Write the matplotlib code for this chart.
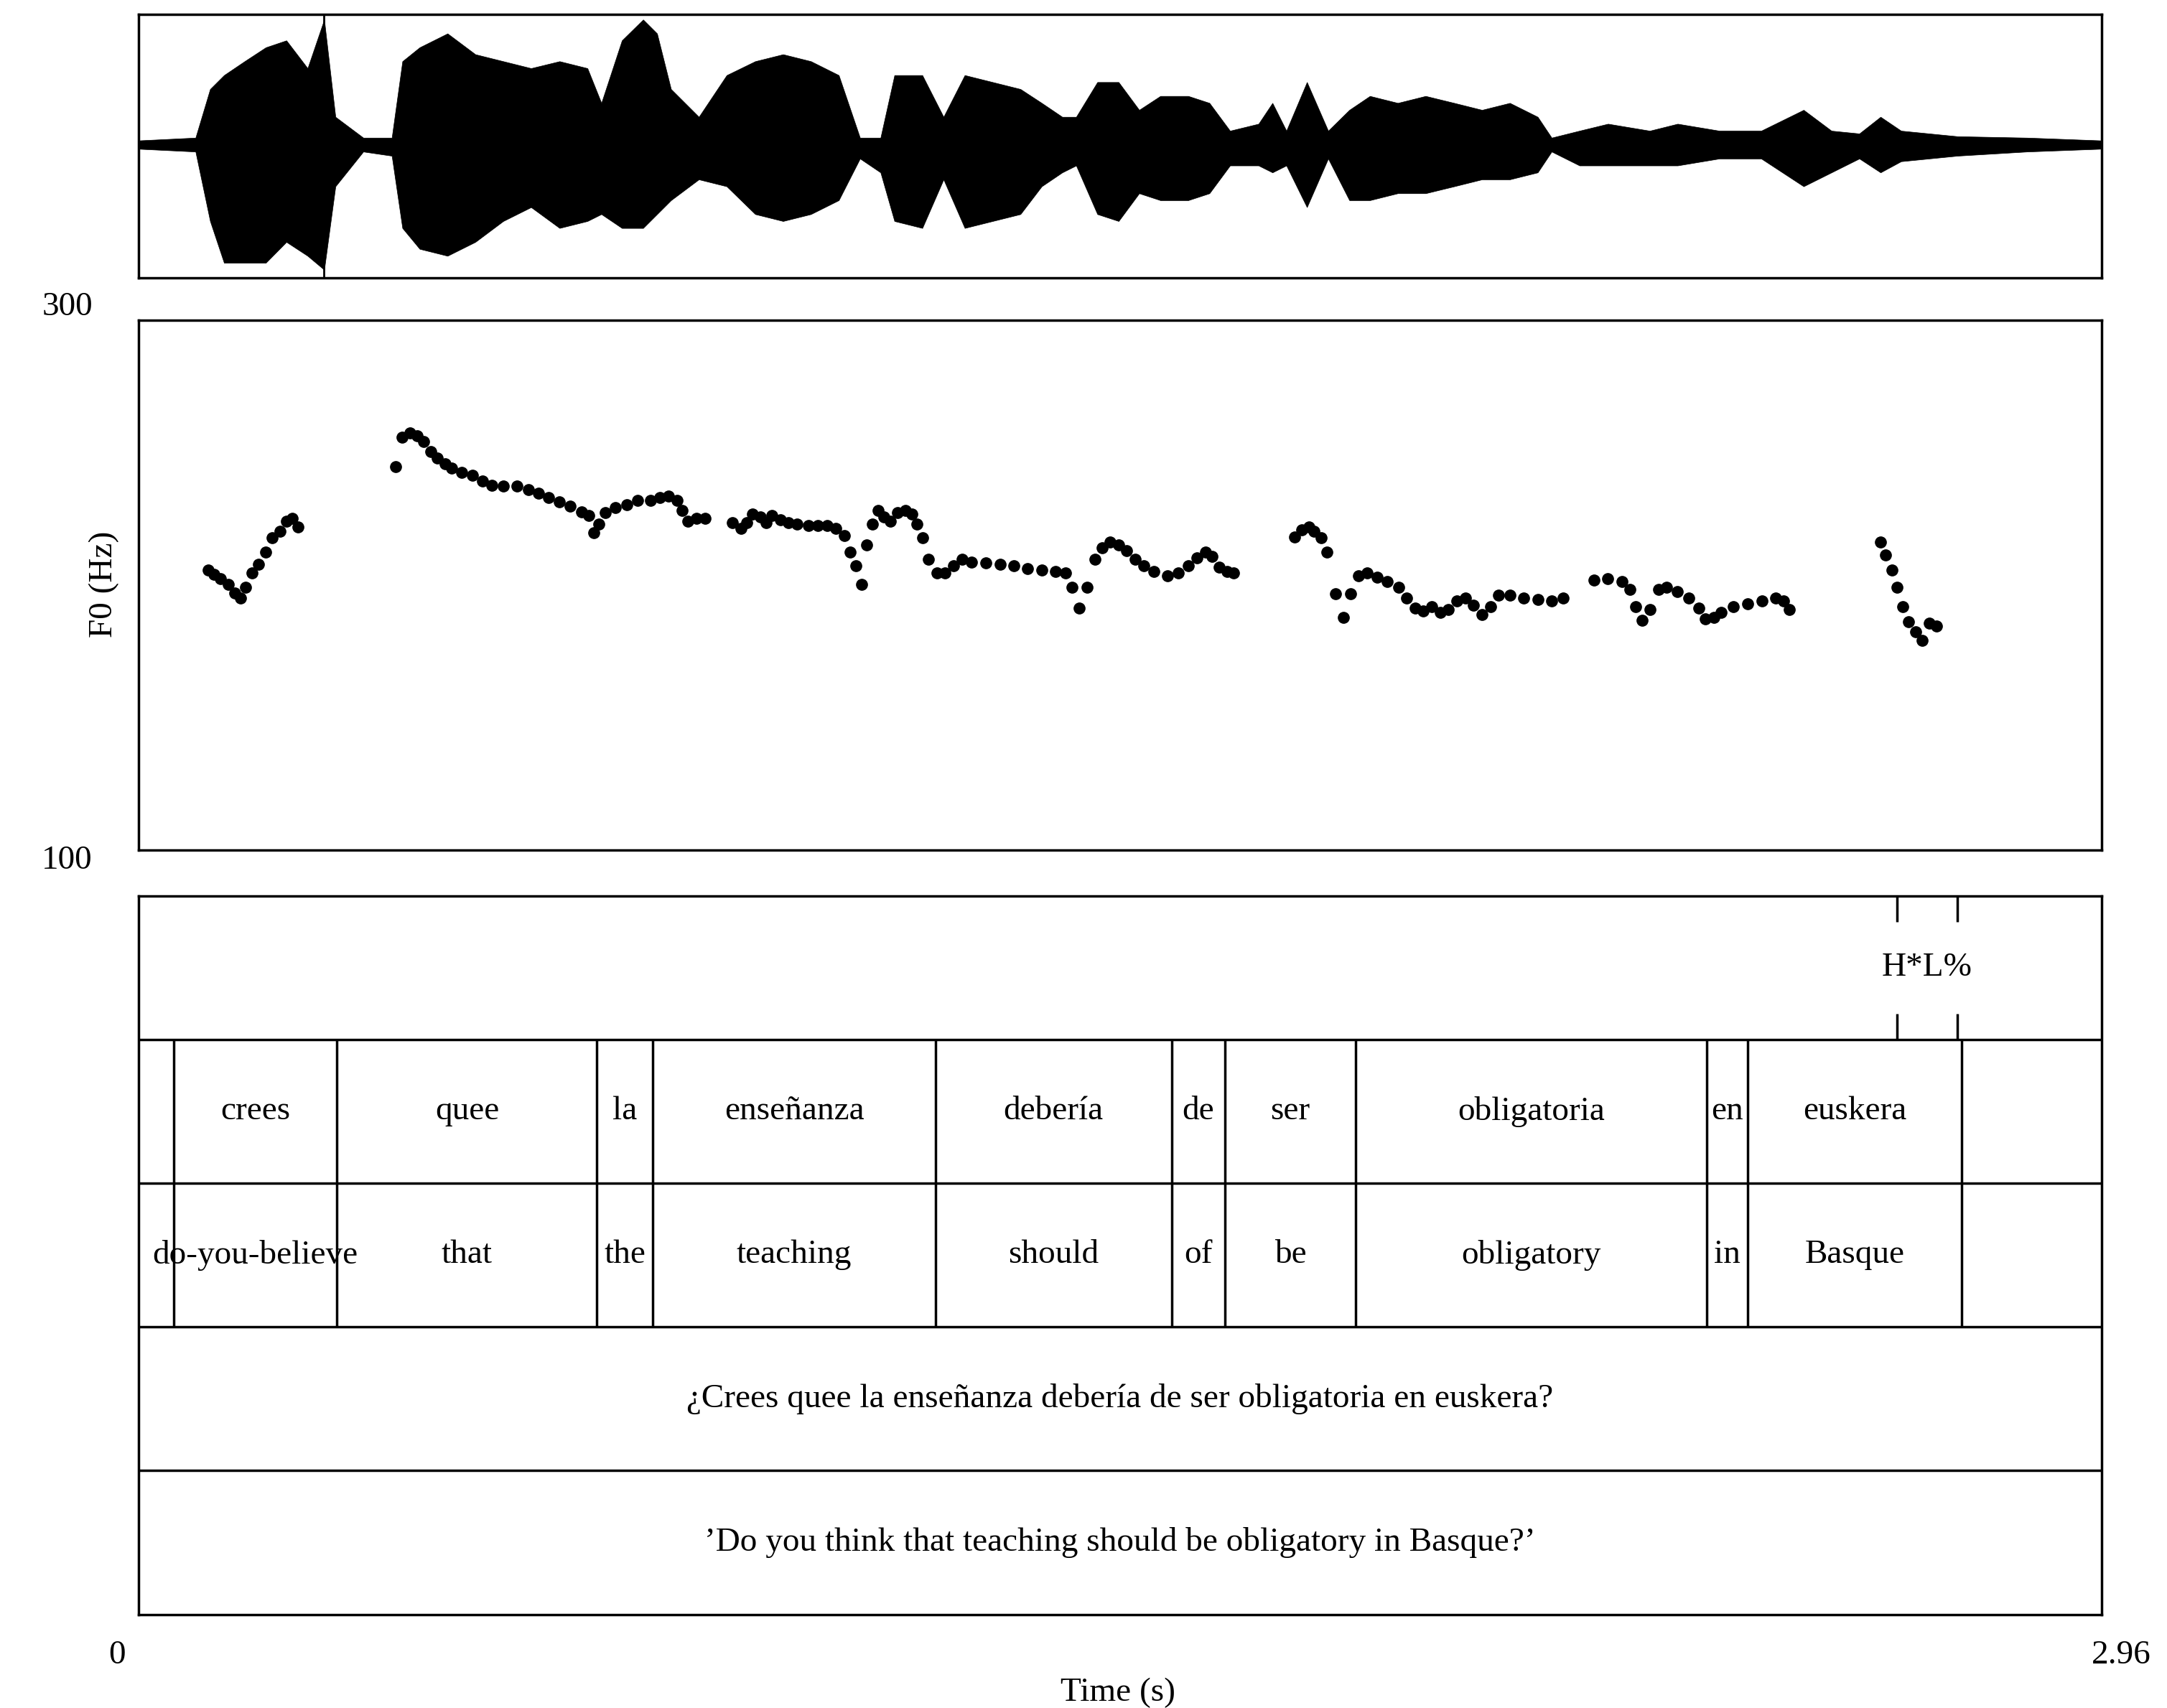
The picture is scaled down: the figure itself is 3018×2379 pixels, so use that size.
import matplotlib
matplotlib.use("Agg")
import matplotlib.pyplot as plt
import numpy as np

plt.rcParams['font.family'] = ['Liberation Serif', 'DejaVu Serif']

T_MAX = 2.96
# waveform envelope (time s, upper, lower amplitude)
wav_t = [0,0.086,0.108,0.129,0.160,0.192,0.223,0.255,0.280,0.297,0.339,0.382,0.398,0.424,0.466,0.508,0.550,0.592,0.635,0.677,0.698,0.729,0.761,0.782,0.803,0.845,0.887,0.930,0.972,1.014,1.056,1.088,1.119,1.140,1.182,1.214,1.246,1.288,1.330,1.362,1.393,1.414,1.446,1.478,1.509,1.541,1.583,1.615,1.646,1.689,1.710,1.731,1.762,1.794,1.826,1.857,1.899,1.941,1.984,2.026,2.068,2.110,2.131,2.173,2.216,2.279,2.321,2.384,2.447,2.511,2.553,2.595,2.627,2.658,2.743,2.848,2.960]
wav_up = [3,5,40,50,60,70,75,55,90,20,5,5,60,70,80,65,60,55,60,55,30,75,90,80,40,20,50,60,65,60,50,5,5,50,50,20,50,45,40,30,20,20,45,45,25,35,35,30,10,15,30,10,45,10,25,35,30,35,30,25,30,20,5,10,15,10,15,10,10,25,10,8,20,10,6,5,3]
wav_lo = [3,5,55,85,85,85,70,80,90,30,5,8,60,75,80,70,55,45,60,55,50,60,60,50,40,25,30,50,55,50,40,10,20,55,60,25,60,55,50,30,20,15,50,55,35,40,40,35,15,15,20,15,45,10,40,40,35,35,30,25,25,20,5,15,15,15,15,10,10,30,20,10,20,12,8,5,3]

f0_t = [0.105,0.114,0.124,0.135,0.145,0.154,0.162,0.171,0.181,0.192,0.202,0.213,0.223,0.232,0.240,
        0.388,0.398,0.409,0.420,0.430,0.441,0.451,0.462,0.472,0.487,0.504,0.519,0.533,0.550,0.571,0.588,0.603,0.618,0.635,0.651,0.668,0.679,0.687,0.694,0.704,0.719,0.736,0.753,0.772,0.786,0.799,0.812,0.820,0.829,0.841,0.854,
        0.896,0.909,0.917,0.926,0.938,0.947,0.955,0.968,0.980,0.993,1.010,1.025,1.039,1.052,1.065,1.073,1.082,1.090,1.098,1.107,1.115,1.124,1.134,1.145,1.157,1.166,1.174,1.183,1.191,1.204,1.216,1.229,1.242,1.256,1.278,1.299,1.320,1.341,1.362,1.383,1.398,1.408,1.419,1.431,1.442,1.453,1.465,1.478,1.490,1.503,1.516,1.531,1.552,1.568,1.583,1.596,1.609,1.619,1.630,1.642,1.651,
        1.743,1.754,1.765,1.773,1.784,1.792,1.805,1.817,1.828,1.840,1.853,1.868,1.883,1.900,1.912,1.925,1.937,1.950,1.963,1.975,1.988,2.001,2.013,2.026,2.039,2.051,2.068,2.089,2.110,2.131,2.148,
        2.195,2.216,2.237,2.249,2.258,2.268,2.279,2.292,2.304,2.321,2.338,2.353,2.363,2.376,2.387,2.405,2.427,2.448,2.469,2.481,2.490,
        2.627,2.635,2.644,2.652,2.661,2.669,2.680,2.690,2.701,2.711]
f0_hz = [205.5,204,202.4,200.3,197,195,199.2,204.5,207.7,212.4,217.7,220.3,224,225,221.9,
         244.6,255.7,257.3,256.2,254.1,250.4,247.8,245.6,244.1,242.5,241.4,239.3,237.7,237.2,237.2,236.1,234.6,233,231.4,229.8,227.7,226.1,219.8,223,227.2,229.3,230.3,231.9,231.9,233,233.5,231.9,228.2,224,225.1,225.1,
         223.5,221.4,223.5,226.7,225.6,223.5,226.1,224.5,223.5,223,222.4,222.4,222.4,221.4,218.7,212.4,207.1,200.3,215,223,228.2,225.6,224,227.2,228.2,226.7,223,217.7,209.8,204.5,204.5,207.1,209.8,208.7,208.2,207.7,207.1,206.1,205.5,205,204.5,199.2,191.3,199.2,209.8,214,216.1,215,212.9,209.8,207.1,205,203.4,204.5,207.1,210.3,212.4,210.8,206.6,205,204.5,
         218.2,220.8,221.9,220.3,217.7,212.4,196.6,187.6,196.6,203.4,204.5,202.9,201.3,199.2,195,191.3,190.2,191.8,189.7,190.8,193.9,195,192.4,188.7,191.8,196,196,195,194.5,193.9,195,
         201.8,202.4,201.3,198.2,191.8,186.5,190.8,198.2,199.2,197.6,195,191.3,187.1,187.6,189.7,191.8,192.9,193.9,195,193.9,190.8,
         216.1,211.3,205.5,199.2,191.8,186,182.3,179.1,185.5,184.4]

word_bounds = [0.0527,0.2994,0.6915,0.7758,1.2017,1.558,1.638,1.836,2.365,2.427,2.749]
words = ["crees","quee","la","enseñanza","debería","de","ser","obligatoria","en","euskera"]
glosses = ["do-you-believe","that","the","teaching","should","of","be","obligatory","in","Basque"]
tone_bounds = [2.652,2.743]
tone_label = "H*L%"
sentence = "¿Crees quee la enseñanza debería de ser obligatoria en euskera?"
translation = "’Do you think that teaching should be obligatory in Basque?’"

W, H = 3018, 2379
fig = plt.figure(figsize=(W/100, H/100), dpi=100)
L, R = 0.0639, 0.9697
FS = 34
lw = 2.5

ax1 = fig.add_axes([L, 0.8372, R-L, 0.9918-0.8372])
ax1.fill_between(wav_t, wav_up, [-l for l in wav_lo], color='black', lw=0.5)
ax1.axvline(0.280, ymin=0, ymax=1, color='black', lw=2)
ax1.set_xlim(0, T_MAX); ax1.set_ylim(-96, 94)
ax1.set_xticks([]); ax1.set_yticks([])
for s in ax1.spines.values(): s.set_linewidth(lw)

ax2 = fig.add_axes([L, 0.5025, R-L, 0.8126-0.5025])
ax2.plot(f0_t, f0_hz, 'o', color='black', ms=11)
ax2.set_xlim(0, T_MAX); ax2.set_ylim(100, 300)
ax2.set_xticks([]); ax2.set_yticks([])
for s in ax2.spines.values(): s.set_linewidth(lw)
fig.text(0.031, 0.820, "300", fontsize=FS, ha='center', va='center')
fig.text(0.031, 0.496, "100", fontsize=FS, ha='center', va='center')
fig.text(0.048, 0.658, "F0 (Hz)", fontsize=FS, rotation=90, ha='center', va='center')

ax3 = fig.add_axes([L, 0.0548, R-L, 0.4755-0.0548])
ax3.set_xlim(0, T_MAX); ax3.set_ylim(0, 5)
ax3.set_xticks([]); ax3.set_yticks([])
for s in ax3.spines.values(): s.set_linewidth(lw)
for y in [1, 2, 3, 4]:
    ax3.axhline(y, color='black', lw=lw)
for b in word_bounds:
    ax3.vlines(b, 2, 4, color='black', lw=lw)
for b in tone_bounds:
    ax3.vlines(b, 4.82, 5, color='black', lw=lw)
    ax3.vlines(b, 4, 4.18, color='black', lw=lw)
ax3.text(np.mean(tone_bounds), 4.5, tone_label, fontsize=FS, ha='center', va='center')
for i in range(len(words)):
    c = (word_bounds[i] + word_bounds[i+1]) / 2
    ax3.text(c, 3.5, words[i], fontsize=FS, ha='center', va='center', clip_on=False)
    ax3.text(c, 2.5, glosses[i], fontsize=FS, ha='center', va='center', clip_on=False)
ax3.text(T_MAX/2, 1.5, sentence, fontsize=FS, ha='center', va='center')
ax3.text(T_MAX/2, 0.5, translation, fontsize=FS, ha='center', va='center')

fig.text(0.054, 0.031, "0", fontsize=FS, ha='center', va='center')
fig.text(0.979, 0.031, "2.96", fontsize=FS, ha='center', va='center')
fig.text(0.516, 0.009, "Time (s)", fontsize=FS, ha='center', va='center')

fig.savefig("out.png", dpi=100)
